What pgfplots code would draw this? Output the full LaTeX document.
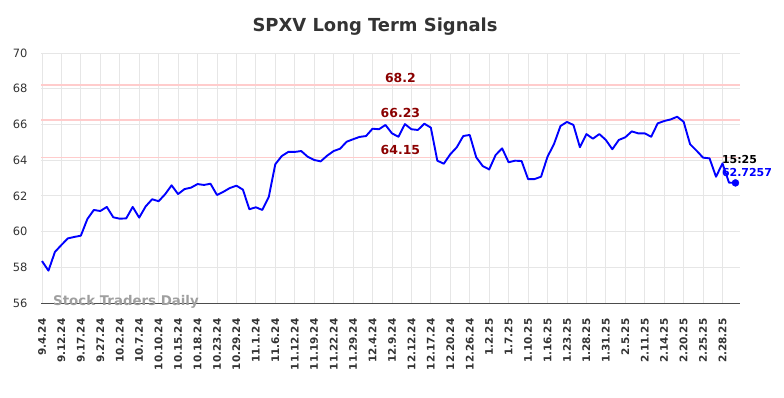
\documentclass[border=0pt]{standalone}
\usepackage{pgfplots}
\pgfplotsset{compat=1.18}
\usepackage{fontspec}
\setmainfont{DejaVu Sans}
\definecolor{gridc}{HTML}{E6E6E6}
\definecolor{redline}{HTML}{FFCCCC}
\definecolor{darkred}{HTML}{8B0000}
\definecolor{txt}{HTML}{333333}
\pgfplotstableread{
i v
0 58.35
1 57.81
2 58.86
3 59.25
4 59.62
5 59.70
6 59.77
7 60.70
8 61.21
9 61.15
10 61.38
11 60.80
12 60.72
13 60.74
14 61.38
15 60.78
16 61.41
17 61.81
18 61.70
19 62.09
20 62.59
21 62.10
22 62.38
23 62.46
24 62.66
25 62.61
26 62.68
27 62.05
28 62.23
29 62.44
30 62.57
31 62.35
32 61.25
33 61.36
34 61.21
35 61.95
36 63.77
37 64.23
38 64.46
39 64.46
40 64.51
41 64.19
42 64.01
43 63.93
44 64.25
45 64.51
46 64.64
47 65.03
48 65.17
49 65.30
50 65.35
51 65.76
52 65.73
53 65.97
54 65.50
55 65.31
56 66.02
57 65.73
58 65.69
59 66.04
60 65.82
61 63.97
62 63.80
63 64.33
64 64.72
65 65.35
66 65.41
67 64.16
68 63.67
69 63.48
70 64.29
71 64.66
72 63.88
73 63.97
74 63.95
75 62.94
76 62.94
77 63.07
78 64.19
79 64.90
80 65.91
81 66.14
82 65.97
83 64.72
84 65.46
85 65.20
86 65.46
87 65.13
88 64.61
89 65.13
90 65.28
91 65.61
92 65.50
93 65.50
94 65.31
95 66.06
96 66.19
97 66.28
98 66.43
99 66.15
100 64.89
101 64.53
102 64.14
103 64.10
104 63.07
105 63.82
106 62.74
107 62.7257
}\series
\begin{document}
\begin{tikzpicture}
\useasboundingbox (0,0) rectangle (784bp,398bp);
\node[font=\fontsize{18}{20}\selectfont\bfseries, text=txt] at (375bp,371bp) {SPXV Long Term Signals};
\begin{axis}[
  at={(41bp,95bp)}, anchor=south west,
  scale only axis, width=699bp, height=250bp,
  xmin=-0.15, xmax=107.7, ymin=56, ymax=70,
  ytick={56,58,...,70},
  xtick={0,3,...,105},
  xticklabels={9.4.24,9.12.24,9.17.24,9.27.24,10.2.24,10.7.24,10.10.24,10.15.24,10.18.24,10.23.24,10.29.24,11.1.24,11.6.24,11.12.24,11.19.24,11.22.24,11.29.24,12.4.24,12.9.24,12.12.24,12.17.24,12.20.24,12.26.24,1.2.25,1.7.25,1.10.25,1.16.25,1.23.25,1.28.25,1.31.25,2.5.25,2.11.25,2.14.25,2.20.25,2.25.25,2.28.25},
  xticklabel style={rotate=90, anchor=east, font=\fontsize{10.5}{12}\selectfont\bfseries, text=txt},
  xticklabel shift=12bp,
  yticklabel style={font=\fontsize{11.5}{13}\selectfont, text=txt},
  yticklabel shift=10bp,
  /pgf/number format/assume math mode=true,
  major tick length=0pt,
  grid=major,
  grid style={gridc, line width=0.8pt},
  axis x line=bottom, axis y line=left,
  x axis line style={-, draw=gray!60!black, line width=0.8pt},
  y axis line style={draw=none},
  clip=false,
]
\addplot[redline, line width=1.8pt, forget plot] coordinates {(-0.15,68.2) (107.7,68.2)};
\addplot[redline, line width=1.8pt, forget plot] coordinates {(-0.15,66.23) (107.7,66.23)};
\addplot[redline, line width=1.8pt, forget plot] coordinates {(-0.15,64.15) (107.7,64.15)};
\addplot[blue, line width=1.9pt, line join=round, no marks] table[x=i, y=v] {\series};
\addplot[blue, only marks, mark=*, mark size=3.5pt] coordinates {(107,62.7257)};
\node[font=\fontsize{12.5}{14}\selectfont\bfseries, text=darkred] at (axis cs:55.3,68.6) {68.2};
\node[font=\fontsize{12.5}{14}\selectfont\bfseries, text=darkred] at (axis cs:55.3,66.64) {66.23};
\node[font=\fontsize{12.5}{14}\selectfont\bfseries, text=darkred] at (axis cs:55.3,64.57) {64.15};
\node[font=\fontsize{11}{12}\selectfont\bfseries, text=black, anchor=west, inner sep=0pt] at (axis cs:104.9,64.01) {15:25};
\node[font=\fontsize{11}{12}\selectfont\bfseries, text=blue, anchor=west, inner sep=0pt] at (axis cs:104.9,63.28) {62.7257};
\node[font=\fontsize{13.4}{15}\selectfont\bfseries, text=gray!75, anchor=west, inner sep=0pt] at (axis cs:1.7,56.05) {Stock Traders Daily};
\end{axis}
\end{tikzpicture}
\end{document}
